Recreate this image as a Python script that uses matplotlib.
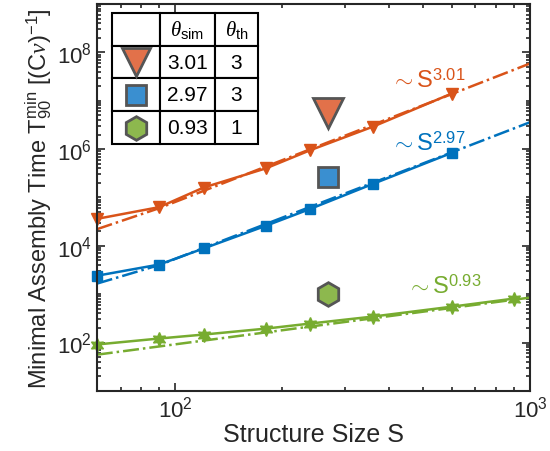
import matplotlib
matplotlib.use('Agg')
import matplotlib.pyplot as plt
import numpy as np
from matplotlib.ticker import LogLocator, NullFormatter

plt.rcParams['font.family'] = ['Liberation Sans', 'DejaVu Sans']
plt.rcParams['mathtext.fontset'] = 'custom'
plt.rcParams['mathtext.rm'] = 'Liberation Sans'
plt.rcParams['mathtext.it'] = 'Liberation Serif:italic'
plt.rcParams['mathtext.bf'] = 'Liberation Sans:bold'

# measured data
sizes = [60, 90, 120, 180, 240, 360, 600]
sizes_green = [60, 90, 120, 180, 240, 360, 600, 900]
t_orange = [3.6e4, 6.3e4, 1.6e5, 4.0e5, 9.5e5, 2.9e6, 1.4e7]
t_blue = [2.4e3, 4.1e3, 8.8e3, 2.6e4, 5.8e4, 1.9e5, 8.3e5]
t_green = [91, 121, 146, 194, 247, 344, 550, 810]

fit_x = [60, 90, 1000]
fit_orange = [2.2e4, 6.0e4, 5.9e7]
fit_blue = [1.65e3, 4.0e3, 3.6e6]
fit_green = [56, 83, 850]

# theory markers
theory_x = 270
theory_y = [5.5e6, 2.6e5, 1.0e3]

theta_sim = ['3.01', '2.97', '0.93']
theta_th = ['3', '3', '1']

c_orange = '#D95319'
c_blue = '#0072BD'
c_green = '#77AC30'
light = ['#E2714A', '#3A8FD0', '#8DB84E']
edge = '#555555'

fig = plt.figure(figsize=(5.5, 4.52), dpi=100)
ax = fig.add_axes([0.176, 0.133, 0.788, 0.856])

ax.plot(fit_x, fit_orange, '-.', color=c_orange, lw=1.8)
ax.plot(fit_x, fit_blue, '-.', color=c_blue, lw=1.8)
ax.plot(fit_x, fit_green, '-.', color=c_green, lw=1.8)

ax.plot(sizes, t_orange, '-', color=c_orange, lw=1.8, marker='v', ms=9, clip_on=False)
ax.plot(sizes, t_blue, '-', color=c_blue, lw=1.8, marker='s', ms=6.5, clip_on=False)
ax.plot(sizes_green, t_green, '-', color=c_green, lw=1.8, marker=(6, 1, 0), ms=10, clip_on=False)

ax.plot(theory_x, theory_y[0], marker='v', ms=21, mfc=light[0], mec=edge, mew=2, ls='none')
ax.plot(theory_x, theory_y[1], marker='s', ms=15, mfc=light[1], mec=edge, mew=2, ls='none')
ax.plot(theory_x, theory_y[2], marker='h', ms=17, mfc=light[2], mec=edge, mew=2, ls='none')

ax.text(405, 1.9e7, r'$\sim$S$^{3.01}$', color=c_orange, fontsize=17, va='baseline')
ax.text(405, 9.5e5, r'$\sim$S$^{2.97}$', color=c_blue, fontsize=17, va='baseline')
ax.text(450, 1.07e3, r'$\sim$S$^{0.93}$', color=c_green, fontsize=17, va='baseline')

ax.set_xscale('log')
ax.set_yscale('log')
ax.set_xlim(60, 1000)
ax.set_ylim(10, 1e9)
ax.set_xticks([100, 1000])
ax.set_yticks([1e2, 1e4, 1e6, 1e8])
ax.yaxis.set_minor_locator(LogLocator(base=10, subs=np.arange(1, 10), numticks=50))
ax.xaxis.set_minor_locator(LogLocator(base=10, subs=np.arange(1, 10), numticks=50))
ax.yaxis.set_minor_formatter(NullFormatter())
ax.xaxis.set_minor_formatter(NullFormatter())
ax.tick_params(which='both', direction='in', top=True, right=True, colors='#262626',
               labelcolor='#262626', width=1.2)
ax.tick_params(which='major', length=6, labelsize=16)
ax.tick_params(which='minor', length=3)
for s in ax.spines.values():
    s.set_linewidth(1.5)
    s.set_color('#262626')

ax.set_xlabel('Structure Size S', fontsize=18, color='#262626', labelpad=0)
ax.set_ylabel(r'Minimal Assembly Time T$_{90}^{\rm min}$ [(C$\nu$)$^{-1}$]',
              fontsize=17, color='#262626', labelpad=2)

# table with exponents
cell_text = [['', r'$\theta_{\rm sim}$', r'$\theta_{\rm th}$']]
for a, b in zip(theta_sim, theta_th):
    cell_text.append(['', a, b])
tbl = ax.table(cellText=cell_text, cellLoc='center', colWidths=[48, 55, 43],
               bbox=[0.035, 0.638, 0.337, 0.339])
tbl.auto_set_font_size(False)
tbl.set_fontsize(15)
for cell in tbl.get_celld().values():
    cell.set_linewidth(1.5)
    cell.set_edgecolor('black')
tbl.set_zorder(5)

col0 = 0.035 + 0.337 * 24 / 146
row_h = 0.339 / 4
mk = ['v', 's', 'h']
ms = [20, 14, 17]
for i in range(3):
    yc = 0.638 + 0.339 - row_h * (i + 1.5)
    ax.plot(col0, yc, marker=mk[i], ms=ms[i], mfc=light[i], mec=edge, mew=2,
            transform=ax.transAxes, zorder=6, clip_on=False)

fig.savefig('out.png', dpi=100)
